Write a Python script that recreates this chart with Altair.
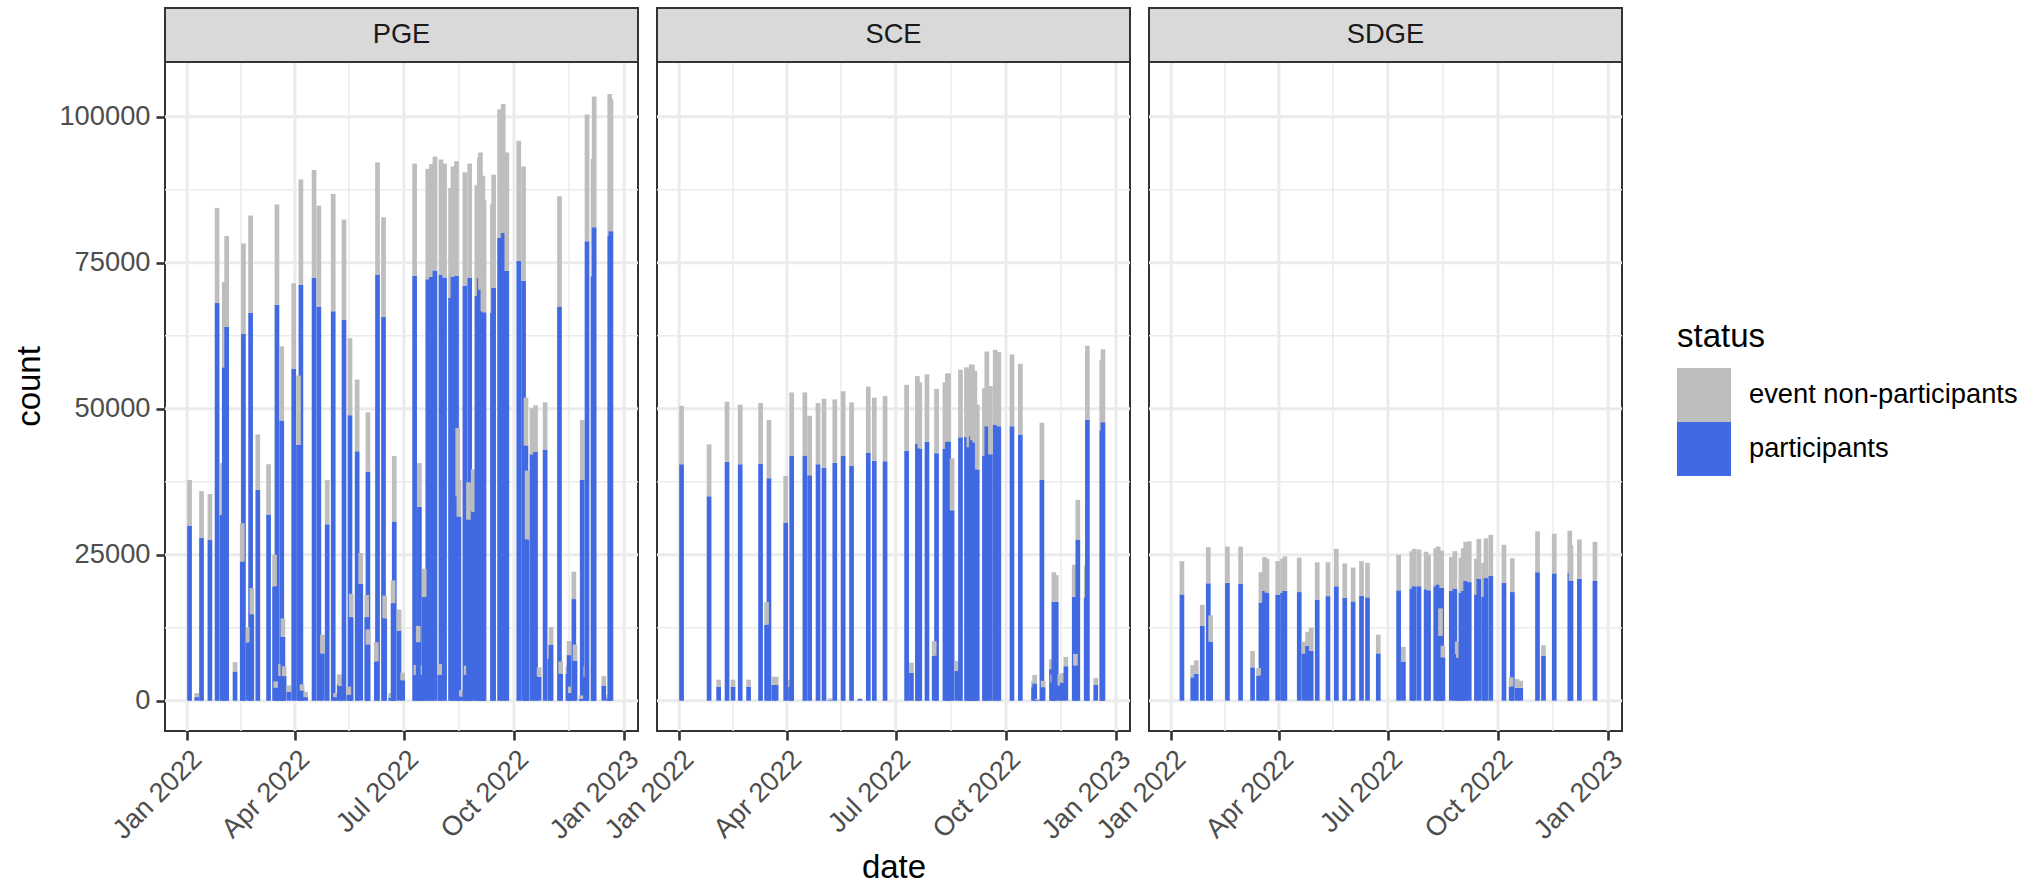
import altair as alt
import pandas as pd

# ---------------- data ----------------
utilities = ["PGE", "SCE", "SDGE"]
statuses = ["event non-participants", "participants"]

pge_dates = ["2022-01-03","2022-01-09","2022-01-13","2022-01-20","2022-01-26","2022-01-30","2022-02-01","2022-02-03",
             "2022-02-10","2022-02-17","2022-02-16","2022-02-23","2022-02-21","2022-02-24","2022-03-01","2022-03-10",
             "2022-03-17","2022-03-15","2022-03-16","2022-03-21","2022-03-20","2022-03-22","2022-03-23","2022-03-27",
             "2022-03-31","2022-04-06","2022-04-04","2022-04-07","2022-04-10","2022-04-17","2022-04-21","2022-04-24",
             "2022-04-28","2022-05-03","2022-05-05","2022-05-08","2022-05-09","2022-05-12","2022-05-17","2022-05-18",
             "2022-05-16","2022-05-23","2022-05-26","2022-06-01","2022-05-31","2022-06-01","2022-06-09","2022-06-08",
             "2022-06-14","2022-06-15","2022-06-20","2022-06-23","2022-06-22","2022-06-27","2022-06-30","2022-07-10",
             "2022-07-11","2022-07-14","2022-07-13","2022-07-17","2022-07-21","2022-07-18","2022-07-24","2022-07-27",
             "2022-08-01","2022-07-31","2022-08-04","2022-08-09","2022-08-11","2022-08-14","2022-08-15","2022-08-16",
             "2022-08-18","2022-08-21","2022-08-22","2022-08-25","2022-08-24","2022-08-28","2022-08-31","2022-09-02",
             "2022-09-03","2022-09-05","2022-09-06","2022-09-13","2022-09-14","2022-09-19","2022-09-22","2022-09-25",
             "2022-10-05","2022-10-09","2022-10-11","2022-10-12","2022-10-16","2022-10-19","2022-10-22","2022-10-27",
             "2022-10-31","2022-11-01","2022-11-08","2022-11-09","2022-11-15","2022-11-16","2022-11-17","2022-11-20",
             "2022-11-21","2022-11-27","2022-11-26","2022-11-30","2022-12-01","2022-12-06","2022-12-07","2022-12-15",
             "2022-12-19","2022-12-20","2022-12-21"]
pge_participants = [30000,600,27900,27500,68100,31800,57100,64000,
                    5000,62800,23800,66400,10000,14800,36100,31900,
                    67800,19600,2200,48000,4200,10900,4200,1500,
                    56800,71200,43800,1700,600,72400,67500,8100,
                    30200,66700,600,2800,2500,65200,48900,14300,
                    1000,42700,20000,39200,14300,9600,73000,6700,
                    65700,14100,500,30700,16700,12000,3500,72800,
                    4400,33200,10000,4400,72200,17800,72600,73700,
                    73000,4400,72500,69000,72600,72800,35000,31500,
                    700,71100,4400,72400,31000,32400,69300,72400,
                    70400,66700,66500,66400,70700,79300,80100,73600,
                    75300,71900,43700,27600,42200,42600,4100,43000,
                    7200,9600,67500,4600,4600,7800,1300,17400,
                    6800,37800,300,4100,78700,72700,81100,2600,
                    400,79600,80400]
pge_nonparticipants = [7800,700,8000,7900,16300,8900,14600,15600,
                       1600,15500,6600,16700,2600,4500,9500,8600,
                       17200,5400,1100,12700,2100,3200,1700,1100,
                       14700,18100,11900,1100,900,18500,17300,3200,
                       7600,20100,700,1700,1300,17200,13200,4000,
                       1400,12300,5300,10200,3800,2600,19200,3300,
                       17100,3900,800,11200,3900,3600,1300,19200,
                       1700,7500,2800,1700,18900,4800,19300,19500,
                       19700,1900,19500,18800,18900,19600,11700,6300,
                       1100,19400,1600,19600,6400,7200,19000,20600,
                       23500,23200,19200,18600,19400,22000,22100,20300,
                       20600,19600,8200,11800,7900,8000,1600,8100,
                       2400,3000,18900,2100,1300,2400,1100,4700,
                       2800,10300,600,1800,21700,20100,22400,1600,
                       600,24300,22600]

sce_dates = ["2022-01-03","2022-01-26","2022-02-03","2022-02-10","2022-02-15","2022-02-21","2022-02-28","2022-03-10",
             "2022-03-17","2022-03-15","2022-03-21","2022-03-23","2022-03-31","2022-04-04","2022-04-05","2022-04-16",
             "2022-04-20","2022-04-27","2022-05-02","2022-05-07","2022-05-11","2022-05-18","2022-05-25","2022-06-01",
             "2022-06-08","2022-06-13","2022-06-22","2022-07-10","2022-07-14","2022-07-19","2022-07-21","2022-07-27",
             "2022-08-04","2022-08-02","2022-08-11","2022-08-13","2022-08-14","2022-08-17","2022-08-21","2022-08-24",
             "2022-08-29","2022-08-31","2022-09-02","2022-09-03","2022-09-05","2022-09-07","2022-09-13","2022-09-15",
             "2022-09-18","2022-09-22","2022-09-25","2022-10-06","2022-10-13","2022-10-24","2022-10-25","2022-10-27",
             "2022-10-31","2022-11-01","2022-11-08","2022-11-09","2022-11-10","2022-11-12","2022-11-15","2022-11-17",
             "2022-11-20","2022-11-27","2022-11-30","2022-11-28","2022-12-07","2022-12-08","2022-12-15","2022-12-20",
             "2022-12-21"]
sce_participants = [40500,35000,2400,40900,2400,40500,2400,40600,
                    38100,13000,2700,2700,30500,2400,41900,42000,
                    38600,40500,39900,100,40700,41900,40200,300,
                    42500,41100,41000,42800,4800,44000,43200,44300,
                    42400,7700,43200,44300,44400,32600,5100,45100,
                    45200,43400,45300,44600,44200,39600,41900,47000,
                    42200,47300,47000,47000,45600,2300,2950,100,
                    37800,2300,5400,3100,16900,16900,2600,3100,
                    5900,17800,27600,6000,17700,48100,2700,46300,
                    47700]
sce_nonparticipants = [10000,8900,1200,10300,1200,10200,1200,10400,
                       10000,3900,1400,1400,8000,1200,10900,10800,
                       10200,10500,11800,300,10900,11100,10900,50,
                       11300,10800,11200,11300,1700,11600,11300,11600,
                       11000,2500,11300,11700,11700,8900,1700,11600,
                       11900,13400,12300,12900,12300,11100,11600,12800,
                       11700,12800,12700,12300,12100,1100,1450,200,
                       9800,1100,1700,1400,5100,4600,1900,1600,
                       1600,5500,6800,2000,5400,12700,1200,12100,
                       12500]

sdge_dates = ["2022-01-10","2022-01-19","2022-01-22","2022-01-27","2022-02-01","2022-02-03","2022-02-17","2022-02-28",
              "2022-03-10","2022-03-17","2022-03-15","2022-03-20","2022-03-22","2022-03-31","2022-04-04","2022-04-06",
              "2022-04-18","2022-04-22","2022-04-25","2022-04-28","2022-05-03","2022-05-12","2022-05-19","2022-05-26",
              "2022-05-31","2022-06-02","2022-06-09","2022-06-14","2022-06-23","2022-07-10","2022-07-14","2022-07-21",
              "2022-07-23","2022-07-27","2022-08-02","2022-08-04","2022-08-10","2022-08-12","2022-08-15","2022-08-14",
              "2022-08-16","2022-08-23","2022-08-26","2022-08-28","2022-08-29","2022-08-31","2022-09-02","2022-09-04",
              "2022-09-07","2022-09-13","2022-09-15","2022-09-19","2022-09-21","2022-09-25","2022-10-06","2022-10-13",
              "2022-10-12","2022-10-17","2022-10-20","2022-11-03","2022-11-08","2022-11-17","2022-11-30","2022-12-01",
              "2022-12-08","2022-12-21"]
sdge_participants = [18200,4000,4600,12800,20100,10100,20200,20000,
                     5700,16800,4300,18800,18500,18100,18500,18800,
                     18600,8100,9400,8500,17300,17900,19600,17600,
                     200,17000,18000,17700,8100,18900,6700,19200,
                     19600,19600,19100,18900,19600,19900,19300,11100,
                     7400,18800,19200,8000,7300,18500,18800,20500,
                     20300,18200,20900,17800,21000,21400,20200,18600,
                     2400,2200,2200,22000,7700,21800,21900,20500,
                     20900,20500]
sdge_nonparticipants = [5700,2100,2300,3600,6200,4500,6200,6400,
                        2800,5200,1300,5800,5800,5800,5800,5900,
                        5900,2000,2400,4000,6400,5800,6400,5900,
                        100,5800,5900,5900,3200,6100,2500,6400,
                        6400,6300,6400,6100,6500,6500,6400,4700,
                        2000,5800,6400,2100,2100,6000,7300,6700,
                        7000,6100,6800,5800,6800,7000,6500,5800,
                        1600,1500,1200,7000,1800,6800,7200,6100,
                        6700,6700]

x_break_dates = ["2022-01-01", "2022-04-01", "2022-07-01", "2022-10-01", "2023-01-01"]
x_minor_dates = ["2022-02-15", "2022-05-16", "2022-08-16", "2022-11-16"]
y_breaks = [0, 25000, 50000, 75000, 100000]
y_minor = [12500, 37500, 62500, 87500]

# ---------------- long table ----------------
rows = []
series = {"PGE": (pge_dates, pge_participants, pge_nonparticipants),
          "SCE": (sce_dates, sce_participants, sce_nonparticipants),
          "SDGE": (sdge_dates, sdge_participants, sdge_nonparticipants)}
for util in utilities:
    ds, ps, ns = series[util]
    for d, p, n in zip(ds, ps, ns):
        rows.append({"utility": util, "date": d, "status": "participants", "lo": 0, "hi": p})
        rows.append({"utility": util, "date": d, "status": "event non-participants", "lo": p, "hi": p + n})
df = pd.DataFrame(rows)

# ---------------- styling ----------------
FONT = "Liberation Sans"
W, H = 473, 669
STRIP = 54
TXT = 27.3
TITLE = 33
x_scale = alt.Scale(type="utc", domain=[alt.DateTime(year=2021, month=12, date=17, hours=16, utc=True),
                                        alt.DateTime(year=2023, month=1, date=8, hours=10, utc=True)])
y_scale = alt.Scale(domain=[-5200, 109400], nice=False, zero=False)
color_scale = alt.Scale(domain=statuses, range=["#BEBEBE", "#4169E1"])


def dt(s):
    y, m, d = (int(v) for v in s.split("-"))
    return alt.DateTime(year=y, month=m, date=d, utc=True)


def x_axis(title=None):
    kw = dict(values=[dt(s) for s in x_break_dates], format="%b %Y", labelAngle=315,
              labelAlign="right", labelBaseline="top", labelFontSize=TXT, labelColor="#4D4D4D",
              labelPadding=5, tickSize=9, tickWidth=2.6, tickColor="#333333", domain=False,
              grid=False, labelOverlap=False, labelFlush=False, labelBound=False)
    if title:
        kw.update(title=title, titleFontSize=TITLE, titleFontWeight="normal", titleColor="#000000",
                  titleY=146, titleBaseline="alphabetic", titleX=W / 2, titleAlign="center")
    else:
        kw.update(title=None)
    return alt.Axis(**kw)


def y_axis(first):
    if not first:
        return alt.Axis(values=y_breaks, labels=False, ticks=False, domain=False, grid=False, title=None)
    return alt.Axis(values=y_breaks, format="d", labelFontSize=TXT, labelColor="#4D4D4D",
                    labelPadding=6, tickSize=9, tickWidth=2.6, tickColor="#333333", domain=False,
                    grid=False, title="count", titleFontSize=TITLE, titleFontWeight="normal",
                    titleColor="#000000", titleAngle=270, titleX=-136, titleY=324,
                    titleBaseline="middle", titleAlign="center")


legend = alt.Legend(title="status", orient="none", legendX=1512, legendY=259,
                    titleFontSize=TITLE, titleFontWeight="normal", titleColor="#000000",
                    labelFontSize=TXT, labelColor="#000000", labelLimit=600, symbolType="square",
                    symbolSize=2916, symbolStrokeWidth=0, symbolOpacity=1, labelOffset=18,
                    rowPadding=0, titlePadding=14, padding=0)


def panel(util, first=False, xtitle=None):
    xa = x_axis(xtitle)
    ya = y_axis(first)
    grid_minor_x = alt.Chart(alt.Data(values=[{"date": s} for s in x_minor_dates])).mark_rule(
        color="#EBEBEB", strokeWidth=1.5).encode(x=alt.X("date:T", scale=x_scale, axis=xa))
    grid_major_x = alt.Chart(alt.Data(values=[{"date": s} for s in x_break_dates])).mark_rule(
        color="#EBEBEB", strokeWidth=3).encode(x=alt.X("date:T", scale=x_scale, axis=xa))
    grid_minor_y = alt.Chart(alt.Data(values=[{"lo": v} for v in y_minor])).mark_rule(
        color="#EBEBEB", strokeWidth=1.5).encode(y=alt.Y("lo:Q", scale=y_scale, axis=ya))
    grid_major_y = alt.Chart(alt.Data(values=[{"lo": v} for v in y_breaks])).mark_rule(
        color="#EBEBEB", strokeWidth=3).encode(y=alt.Y("lo:Q", scale=y_scale, axis=ya))
    bars = alt.Chart(df).transform_filter(alt.datum.utility == util).mark_bar(width=4.7).encode(
        x=alt.X("date:T", scale=x_scale, axis=xa),
        y=alt.Y("lo:Q", scale=y_scale, axis=ya),
        y2="hi:Q",
        color=alt.Color("status:N", scale=color_scale, legend=legend),
    )
    strip = alt.Chart(alt.Data(values=[{"label": util}])).mark_rect(
        fill="#D9D9D9", stroke="#333333", strokeWidth=2).encode(
        x=alt.value(0), x2=alt.value(W), y=alt.value(-STRIP), y2=alt.value(0))
    strip_text = alt.Chart(alt.Data(values=[{"label": util}])).mark_text(
        fontSize=TXT, color="#1A1A1A", font=FONT, baseline="middle", align="center").encode(
        x=alt.value(W / 2), y=alt.value(-STRIP / 2), text="label:N")
    return alt.layer(grid_minor_x, grid_major_x, grid_minor_y, grid_major_y, bars, strip,
                     strip_text).properties(width=W, height=H)


chart = alt.hconcat(panel("PGE", first=True), panel("SCE", xtitle="date"), panel("SDGE"),
                    spacing=19, bounds="flush").properties(
    padding={"left": 12, "top": 6, "right": 10, "bottom": 2}
).configure(font=FONT).configure_view(stroke="#333333", strokeWidth=2)

chart.save("out.html", embed_options={"renderer": "svg", "actions": False})
